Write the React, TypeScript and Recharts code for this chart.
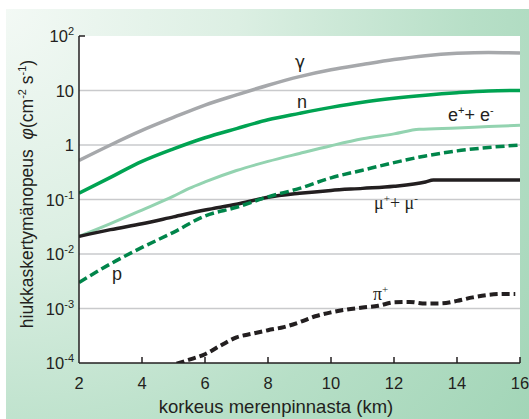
import { LineChart, Line, XAxis, YAxis, CartesianGrid, ReferenceLine } from "recharts";

// korkeus (km)
const heights = [2, 3, 4, 5, 6, 7, 8, 9, 10, 11, 12, 13, 14, 15, 16];
const gamma = [0.52, 1.0, 1.85, 3.2, 5.4, 8.3, 12.5, 18, 24, 30, 37, 43.5, 48, 50, 49];
const neutrons = [0.13, 0.255, 0.5, 0.85, 1.36, 2.0, 2.9, 3.8, 4.9, 6.1, 7.2, 8.2, 9.1, 9.8, 10];
const protons = [0.003, 0.0066, 0.0132, 0.025, 0.05, 0.072, 0.112, 0.16, 0.25, 0.345, 0.475, 0.63, 0.78, 0.9, 1.0];

const electronHeights = [2, 3, 4, 5, 5.5, 6, 7, 8, 9, 10, 11, 12, 12.8, 14, 15, 16];
const electrons = [0.021, 0.036, 0.064, 0.115, 0.16, 0.21, 0.34, 0.5, 0.7, 0.97, 1.3, 1.6, 1.94, 2.05, 2.18, 2.3];

const muonHeights = [2, 3, 4, 5, 6, 7, 8, 9, 10, 11, 12, 13, 13.25, 14, 15, 16];
const muons = [0.021, 0.028, 0.036, 0.048, 0.064, 0.082, 0.11, 0.13, 0.147, 0.16, 0.175, 0.21, 0.228, 0.228, 0.228, 0.228];

const pionHeights = [5.1, 5.5, 6, 6.5, 7, 7.5, 8, 8.5, 9, 9.5, 10, 10.5, 11, 11.5, 12, 12.5, 13, 13.5, 14, 14.5, 15, 15.5, 15.85];
const pions = [
  0.97e-4, 1.15e-4, 1.45e-4, 2.1e-4, 2.95e-4, 3.45e-4, 4.0e-4, 4.55e-4, 5.6e-4, 7.2e-4, 8.5e-4, 9.6e-4,
  1.04e-3, 1.12e-3, 1.3e-3, 1.32e-3, 1.23e-3, 1.24e-3, 1.38e-3, 1.6e-3, 1.78e-3, 1.85e-3, 1.85e-3,
];

const xTicks = [2, 4, 6, 8, 10, 12, 14, 16];
const yTicks = [1e-4, 1e-3, 1e-2, 1e-1, 1, 10, 100];
const gridValues = [1e-3, 1e-2, 1e-1, 1, 10];

const zip = (xs: number[], ys: number[]) => xs.map((h, i) => ({ h, v: ys[i] }));

const INK = "#231f20";
const FONT = "'Liberation Sans', Arial, sans-serif";
const SERIF = "'Liberation Serif', 'Times New Roman', serif";

function XTick({ x, y, payload }: any) {
  return (
    <g>
      {payload.value !== 2 && <line x1={x} y1={y} x2={x} y2={y - 6} stroke={INK} strokeWidth={1.5} />}
      <text x={x} y={y + 26} textAnchor="middle" fontSize={16.5} fill={INK} fontFamily={FONT}>
        {payload.value}
      </text>
    </g>
  );
}

function YTick({ x, y, payload }: any) {
  const exp = Math.round(Math.log10(payload.value));
  return (
    <g>
      {exp === 2 && <line x1={x} y1={y} x2={x + 6} y2={y} stroke={INK} strokeWidth={1.5} />}
      <text x={x - 5} y={y + 6} textAnchor="end" fontSize={16.5} fill={INK} fontFamily={FONT}>
        {exp === 0 ? "1" : "10"}
        {exp !== 0 && exp !== 1 && (
          <tspan dy={-7} fontSize={11}>
            {exp}
          </tspan>
        )}
      </text>
    </g>
  );
}

export default function App() {
  return (
    <div style={{ position: "absolute", left: 0, top: 0, width: 529, height: 419, background: "#fff", overflow: "hidden" }}>
      <div
        style={{
          position: "absolute",
          left: 6,
          top: 9,
          width: 523,
          height: 410,
          background: "radial-gradient(circle at 0% 0%, #f3f9f5 0%, #dcefe3 35%, #b7dfc7 70%, #a2d5b7 100%)",
        }}
      />
      <div style={{ position: "absolute", left: 0, top: 0 }}>
        <LineChart width={529} height={419} margin={{ top: 36, right: 9, bottom: 16, left: 8 }}>
          <CartesianGrid horizontal={false} vertical={false} fill="#ffffff" />
          <XAxis
            type="number"
            dataKey="h"
            domain={[2, 16]}
            ticks={xTicks}
            allowDataOverflow
            height={40}
            tickSize={0}
            tickMargin={0}
            tickLine={false}
            axisLine={{ stroke: INK, strokeWidth: 1.5 }}
            tick={<XTick />}
          />
          <YAxis
            type="number"
            scale="log"
            domain={[1e-4, 100]}
            ticks={yTicks}
            allowDataOverflow
            width={71}
            tickSize={0}
            tickMargin={0}
            tickLine={false}
            axisLine={{ stroke: INK, strokeWidth: 1.5 }}
            tick={<YTick />}
          />
          {gridValues.map((g) => (
            <ReferenceLine key={g} y={g} stroke="#c9cacc" strokeWidth={1.5} />
          ))}
          <Line data={zip(heights, gamma)} dataKey="v" type="monotone" stroke="#a6a8ab" strokeWidth={3.5} dot={false} isAnimationActive={false} />
          <Line data={zip(heights, neutrons)} dataKey="v" type="monotone" stroke="#00a352" strokeWidth={3.5} dot={false} isAnimationActive={false} />
          <Line data={zip(electronHeights, electrons)} dataKey="v" type="monotone" stroke="#93d3b0" strokeWidth={3} dot={false} isAnimationActive={false} />
          <Line data={zip(muonHeights, muons)} dataKey="v" type="monotone" stroke={INK} strokeWidth={3.5} dot={false} isAnimationActive={false} />
          <Line data={zip(heights, protons)} dataKey="v" type="monotone" stroke="#00854a" strokeWidth={3.5} strokeDasharray="9 4" dot={false} isAnimationActive={false} />
          <Line data={zip(pionHeights, pions)} dataKey="v" type="monotone" stroke={INK} strokeWidth={4} strokeDasharray="8 4" dot={false} isAnimationActive={false} />
        </LineChart>
      </div>
      <svg width={529} height={419} style={{ position: "absolute", left: 0, top: 0, pointerEvents: "none" }}>
        <g fill={INK} fontFamily={FONT}>
          <text x={300} y={68} textAnchor="middle" fontSize={17} fontFamily="'DejaVu Sans', sans-serif">γ</text>
          <text x={302} y={108} textAnchor="middle" fontSize={18}>n</text>
          <text x={448} y={121} fontSize={18}>
            e<tspan dy={-7} fontSize={11}>+</tspan>
            <tspan dy={7}>+ e</tspan>
            <tspan dy={-7} fontSize={11}>-</tspan>
          </text>
          <text x={117} y={280} textAnchor="middle" fontSize={18}>p</text>
          <text x={374} y={209} fontSize={18} fontFamily={SERIF}>
            μ<tspan dy={-7} fontSize={11}>+</tspan>
            <tspan dy={7}>+ μ</tspan>
            <tspan dy={-7} fontSize={11}>-</tspan>
          </text>
          <text x={373} y={300} fontSize={18} fontFamily={SERIF}>
            π<tspan dy={-7} fontSize={11}>+</tspan>
          </text>
          <text x={276} y={413} textAnchor="middle" fontSize={18.5}>korkeus merenpinnasta (km)</text>
          <text x={0} y={0} transform="translate(33,194) rotate(-90)" textAnchor="middle" fontSize={17.5}>
            hiukkaskertymänopeus{"\u00a0\u00a0"}
            <tspan fontStyle="italic">φ</tspan>(cm<tspan dy={-7} fontSize={11}>-2</tspan>
            <tspan dy={7}> s</tspan>
            <tspan dy={-7} fontSize={11}>-1</tspan>
            <tspan dy={7}>)</tspan>
          </text>
        </g>
      </svg>
    </div>
  );
}
